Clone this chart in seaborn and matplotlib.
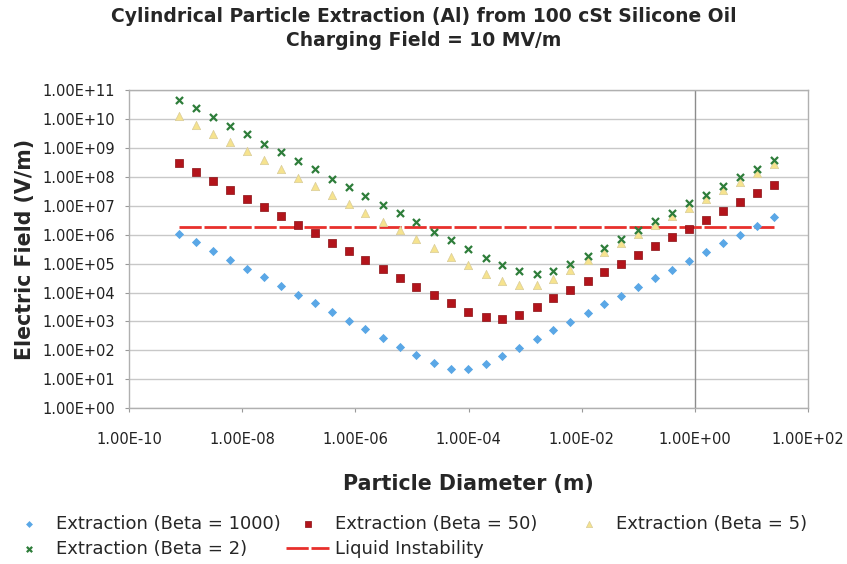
"""
Extraction field of cylindrical Al particles vs diameter
"""
import matplotlib
matplotlib.use('Agg')
import matplotlib.pyplot as plt
import seaborn as sns
import pandas as pd
from matplotlib.ticker import FixedLocator, FuncFormatter, NullLocator

# Particle diameters (m)
diameter = [7.5e-10, 1.5e-9, 3.0e-9, 6.0e-9, 1.2e-8, 2.4e-8, 4.8e-8, 9.6e-8,
            1.9e-7, 3.8e-7, 7.7e-7, 1.5e-6, 3.1e-6, 6.1e-6, 1.2e-5, 2.5e-5,
            4.9e-5, 9.8e-5, 2.0e-4, 3.9e-4, 7.9e-4, 1.6e-3, 3.1e-3, 6.3e-3,
            1.3e-2, 2.5e-2, 5.0e-2, 0.10, 0.20, 0.40, 0.80, 1.6, 3.2, 6.4,
            12.9, 25.8]

# Extraction field (V/m)
beta_1000 = [1.07e6, 5.4e5, 2.7e5, 1.35e5, 6.7e4, 3.4e4, 1.7e4, 8.4e3, 4.2e3,
             2.1e3, 1.08e3, 5.3e2, 2.6e2, 1.3e2, 68, 36, 23, 22, 35, 65, 126,
             252, 515, 950, 1.9e3, 3.9e3, 7.8e3, 1.6e4, 3.1e4, 6.2e4, 1.25e5,
             2.5e5, 5.0e5, 1.0e6, 2.0e6, 4.0e6]
beta_50 = [2.9e8, 1.5e8, 7.2e7, 3.6e7, 1.75e7, 8.8e6, 4.4e6, 2.2e6, 1.1e6,
           5.3e5, 2.7e5, 1.36e5, 6.7e4, 3.3e4, 1.6e4, 8.4e3, 4.2e3, 2.2e3,
           1.4e3, 1.2e3, 1.7e3, 3.2e3, 6.4e3, 1.25e4, 2.5e4, 5.0e4, 1.0e5,
           2.0e5, 4.0e5, 8.1e5, 1.6e6, 3.3e6, 6.6e6, 1.3e7, 2.7e7, 5.4e7]
beta_5 = [1.26e10, 6.0e9, 3.1e9, 1.55e9, 7.8e8, 3.9e8, 1.85e8, 9.1e7, 4.7e7,
          2.3e7, 1.15e7, 5.6e6, 2.8e6, 1.42e6, 6.9e5, 3.5e5, 1.7e5, 8.9e4,
          4.5e4, 2.6e4, 1.8e4, 1.8e4, 2.9e4, 5.8e4, 1.36e5, 2.6e5, 5.3e5,
          1.05e6, 2.1e6, 4.4e6, 8.5e6, 1.7e7, 3.4e7, 6.8e7, 1.35e8, 2.7e8]
beta_2 = [4.4e10, 2.3e10, 1.17e10, 5.8e9, 2.9e9, 1.4e9, 7.0e8, 3.5e8, 1.8e8,
          8.7e7, 4.3e7, 2.2e7, 1.1e7, 5.4e6, 2.7e6, 1.27e6, 6.7e5, 3.3e5,
          1.6e5, 8.9e4, 5.4e4, 4.4e4, 5.5e4, 9.7e4, 1.8e5, 3.5e5, 7.2e5,
          1.4e6, 2.9e6, 5.7e6, 1.2e7, 2.4e7, 4.8e7, 9.8e7, 1.9e8, 3.9e8]

# Liquid instability threshold
liquid_x = [7.5e-10, 25.8]
liquid_y = [1.8e6, 1.8e6]

x_ticks = [1e-10, 1e-8, 1e-6, 1e-4, 1e-2, 1e0, 1e2]
y_ticks = [1e0, 1e1, 1e2, 1e3, 1e4, 1e5, 1e6, 1e7, 1e8, 1e9, 1e10, 1e11]

W, H = 847, 564


def main():
    sns.set_style('white')
    plt.rcParams['font.family'] = ['DejaVu Sans']

    fig = plt.figure(figsize=(W / 100, H / 100), dpi=100)
    left, right, top, bottom = 129.3, 807.7, 90.0, 408.3
    ax = fig.add_axes([left / W, 1 - bottom / H,
                       (right - left) / W, (bottom - top) / H])

    df = pd.DataFrame({'d': diameter, 'b1000': beta_1000, 'b50': beta_50,
                       'b5': beta_5, 'b2': beta_2})

    sns.scatterplot(data=df, x='d', y='b1000', ax=ax, marker='D', s=22,
                    color='#5AA7E6', edgecolor='#5AA7E6', linewidth=0,
                    label='Extraction (Beta = 1000)', zorder=4)
    sns.scatterplot(data=df, x='d', y='b50', ax=ax, marker='s', s=32,
                    color='#B3141B', edgecolor='#8A0F14', linewidth=0.5,
                    label='Extraction (Beta = 50)', zorder=4)
    sns.scatterplot(data=df, x='d', y='b5', ax=ax, marker='^', s=36,
                    color='#F6E38E', edgecolor='#D8CC9A', linewidth=0.5,
                    label='Extraction (Beta = 5)', zorder=5)
    sns.scatterplot(data=df, x='d', y='b2', ax=ax, marker='x', s=26,
                    color='#2E7D3A', linewidth=1.6,
                    label='Extraction (Beta = 2)', zorder=6)
    sns.lineplot(x=liquid_x, y=liquid_y, ax=ax, color='#E8302C',
                 linewidth=2.0, label='Liquid Instability', zorder=3)
    ax.lines[-1].set_dashes((8, 1))

    ax.set_xscale('log')
    ax.set_yscale('log')
    ax.set_xlim(1e-10, 1e2)
    ax.set_ylim(1e0, 1e11)

    fmt = FuncFormatter(lambda v, p: f'{v:.2E}')
    ax.xaxis.set_major_locator(FixedLocator(x_ticks))
    ax.yaxis.set_major_locator(FixedLocator(y_ticks))
    ax.xaxis.set_minor_locator(NullLocator())
    ax.yaxis.set_minor_locator(NullLocator())
    ax.xaxis.set_major_formatter(fmt)
    ax.yaxis.set_major_formatter(fmt)
    ax.tick_params(labelsize=10.5, labelcolor='#222222', color='#999999',
                   length=3, width=0.8, direction='out',
                   bottom=True, left=True)
    ax.tick_params(axis='x', pad=14)
    ax.tick_params(axis='y', pad=7)

    ax.yaxis.grid(True, color='#C8C8C8', linewidth=1.0)
    ax.xaxis.grid(False)
    ax.axvline(1.0, color='#8C8C8C', linewidth=1.0, zorder=2)
    for s in ax.spines.values():
        s.set_color('#B0B0B0')
        s.set_linewidth(1.0)

    ax.set_xlabel('Particle Diameter (m)', fontsize=14.8, fontweight='bold',
                  va='center')
    ax.xaxis.set_label_coords(0.5, (bottom - 484) / (bottom - top))
    ax.set_ylabel('Electric Field (V/m)', fontsize=14.8, fontweight='bold',
                  va='center')
    ax.yaxis.set_label_coords((25 - left) / (right - left), 0.5)

    fig.text(0.5, 1 - 16 / H,
             'Cylindrical Particle Extraction (Al) from 100 cSt Silicone Oil',
             ha='center', va='center', fontsize=13.5, fontweight='bold')
    fig.text(0.5, 1 - 40 / H, 'Charging Field = 10 MV/m',
             ha='center', va='center', fontsize=13.5, fontweight='bold')

    # legend laid out like Excel: three evenly spaced columns, filled row-wise
    handles, labels = ax.get_legend_handles_labels()
    ax.get_legend().remove()
    columns = [([0, 3], 7), ([1, 4], 286), ([2], 567)]
    for idx, x0 in columns:
        fig.legend([handles[i] for i in idx], [labels[i] for i in idx],
                   ncol=1, loc='upper left',
                   bbox_to_anchor=(x0 / W, 1 - 515 / H),
                   frameon=False, fontsize=13, borderpad=0, borderaxespad=0,
                   handlelength=2.4, handletextpad=0.3, labelspacing=0.4,
                   markerscale=0.75)

    fig.savefig('out.png', dpi=100)


if __name__ == '__main__':
    main()
